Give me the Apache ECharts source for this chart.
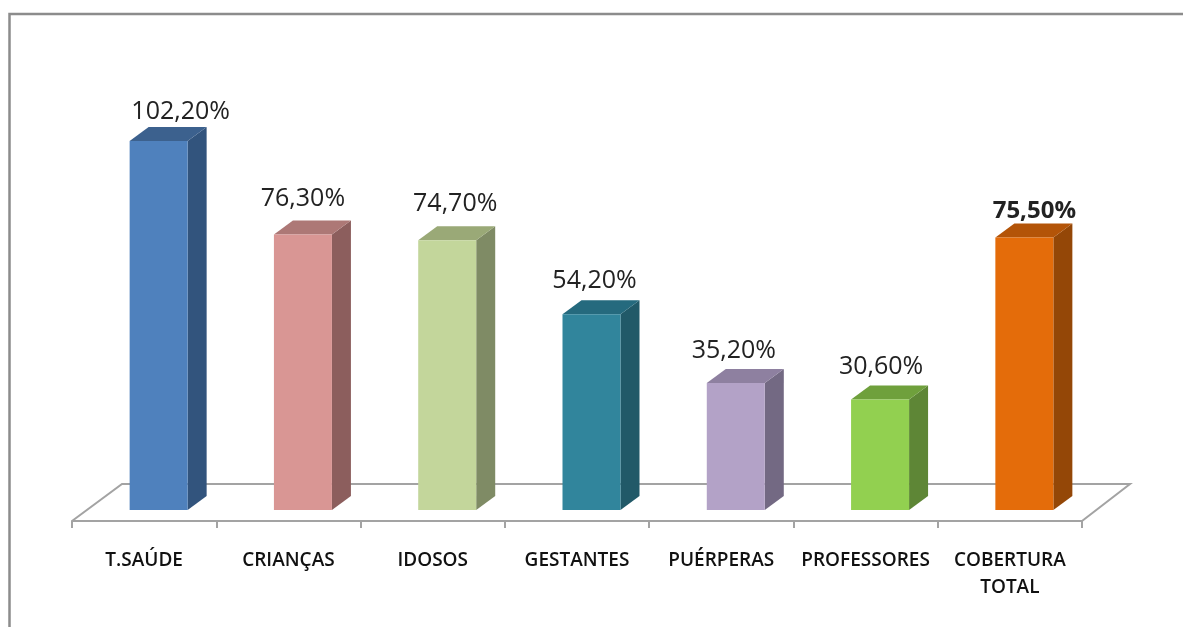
<!DOCTYPE html>
<html>
<head>
<meta charset="utf-8">
<title>Cobertura</title>
<script src="https://cdn.jsdelivr.net/npm/echarts@6/dist/echarts.min.js"></script>
<style>
  html, body { margin: 0; padding: 0; background: #fff; }
  #chart { width: 1183px; height: 627px; }
</style>
</head>
<body>
<div id="chart"></div>
<script>
const categories = ['T.SAÚDE', 'CRIANÇAS', 'IDOSOS', 'GESTANTES', 'PUÉRPERAS', 'PROFESSORES', 'COBERTURA\nTOTAL']
const coverage = [102.2, 76.3, 74.7, 54.2, 35.2, 30.6, 75.5]
const valueLabels = ['102,20%', '76,30%', '74,70%', '54,20%', '35,20%', '30,60%', '75,50%']

// front / top / side colour of every bar
const frontColors = ['#4f81bd', '#d99694', '#c3d69b', '#31859c', '#b3a2c7', '#92d050', '#e46c0a']
const topColors = ['#3c618e', '#ad7876', '#9aa977', '#256a7e', '#8e80a0', '#6fa03c', '#b35408']
const sideColors = ['#32547d', '#8c5e5d', '#7f8b65', '#215968', '#736983', '#5e8636', '#944707']
// the data labels were dragged by hand in the original
const labelShiftX = [22, 0, 8, 3, -2, 1, 10]
const labelShiftY = [-29, -36, -36, -33, -32, -33, -26]

const chart = echarts.init(document.getElementById('chart'))

const AXIS_COLOR = '#a3a3a3'
const DEPTH_X = 19
const DEPTH_Y = 14

function renderFloor(params, api) {
  const c = params.coordSys
  const bottom = c.y + c.height
  return {
    type: 'polyline',
    silent: true,
    shape: {
      points: [
        [c.x, bottom],
        [c.x + 50, bottom - 37],
        [c.x + c.width + 48, bottom - 37],
        [c.x + c.width, bottom]
      ]
    },
    style: { fill: null, stroke: AXIS_COLOR, lineWidth: 2 }
  }
}

function renderBar(params, api) {
  const i = api.value(0)
  const top = api.coord([i, api.value(1)])
  const base = api.coord([i, 0])
  const halfW = 29
  const cx = top[0] + 14.5
  const l = cx - halfW
  const r = cx + halfW
  return {
    type: 'group',
    children: [
      {
        type: 'polygon',
        shape: { points: [[r, top[1]], [r + DEPTH_X, top[1] - DEPTH_Y], [r + DEPTH_X, base[1] - DEPTH_Y], [r, base[1]]] },
        style: { fill: sideColors[i] }
      },
      {
        type: 'polygon',
        shape: { points: [[l, top[1]], [l + DEPTH_X, top[1] - DEPTH_Y], [r + DEPTH_X, top[1] - DEPTH_Y], [r, top[1]]] },
        style: { fill: topColors[i] }
      },
      {
        type: 'rect',
        shape: { x: l, y: top[1], width: r - l, height: base[1] - top[1] },
        style: { fill: frontColors[i] }
      },
      {
        type: 'text',
        style: {
          x: cx + labelShiftX[i],
          y: top[1] + labelShiftY[i],
          text: valueLabels[i],
          align: 'center',
          verticalAlign: 'middle',
          fill: '#222',
          font: i === 6 ? 'bold 24px "Open Sans"' : '25px "Open Sans"'
        }
      }
    ]
  }
}

const option = {
  animation: false,
  backgroundColor: '#fff',
  grid: { left: 72, right: 101, top: 40, bottom: 106 },
  graphic: [
    {
      type: 'polyline',
      silent: true,
      shape: { points: [[9.5, 627], [9.5, 14], [1183, 14]] },
      style: { fill: null, stroke: '#8c8c8c', lineWidth: 2.5 }
    }
  ],
  xAxis: {
    type: 'category',
    data: categories,
    axisLine: { onZero: false, lineStyle: { color: AXIS_COLOR, width: 2 } },
    axisTick: { show: true, length: 7, lineStyle: { color: AXIS_COLOR, width: 2 } },
    axisLabel: {
      interval: 0,
      margin: 26,
      color: '#111',
      fontFamily: 'Open Sans',
      fontSize: 19,
      fontWeight: 600,
      lineHeight: 27
    }
  },
  yAxis: { type: 'value', show: false, min: -3.05, max: 130.2 },
  series: [
    { type: 'custom', z: 1, silent: true, renderItem: renderFloor, data: [[0, 0]] },
    {
      type: 'custom',
      z: 2,
      renderItem: renderBar,
      encode: { x: 0, y: 1 },
      data: coverage.map((v, i) => [i, v])
    }
  ]
}

chart.setOption(option)
</script>
</body>
</html>
